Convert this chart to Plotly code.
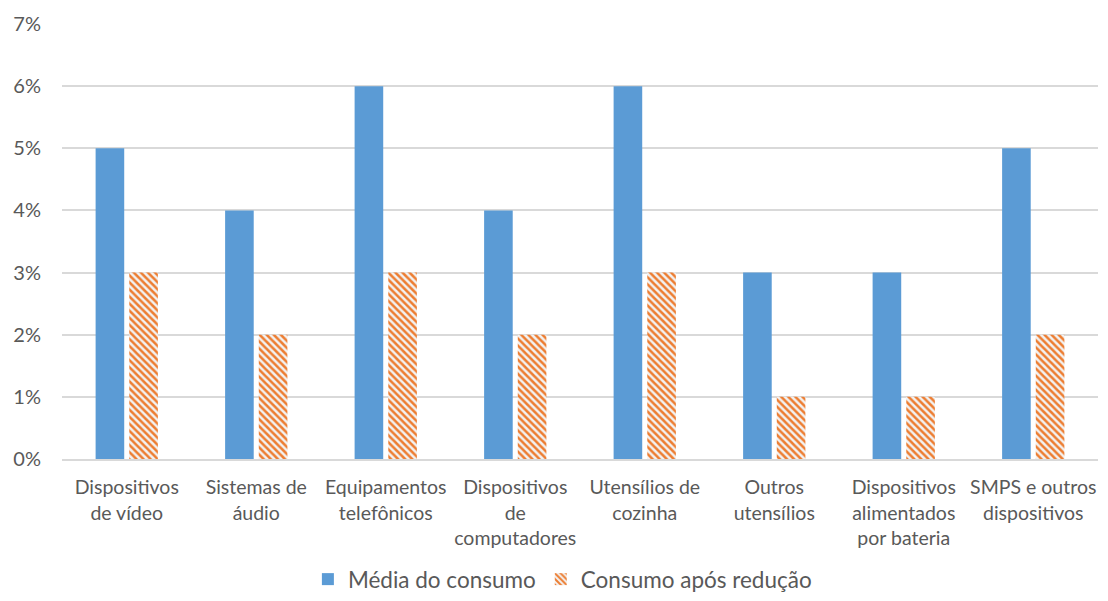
import plotly.graph_objects as go

categories = [
    "Dispositivos<br>de vídeo",
    "Sistemas de<br>áudio",
    "Equipamentos<br>telefônicos",
    "Dispositivos<br>de<br>computadores",
    "Utensílios de<br>cozinha",
    "Outros<br>utensílios",
    "Dispositivos<br>alimentados<br>por bateria",
    "SMPS e outros<br>dispositivos",
]
media_consumo = [0.05, 0.04, 0.06, 0.04, 0.06, 0.03, 0.03, 0.05]
consumo_reducao = [0.03, 0.02, 0.03, 0.02, 0.03, 0.01, 0.01, 0.02]

font_family = "Lato, Open Sans, sans-serif"

fig = go.Figure()
fig.add_trace(go.Bar(
    x=categories, y=media_consumo, name="Média do consumo",
    marker=dict(color="#5B9BD5", line=dict(width=0)),
))
fig.add_trace(go.Bar(
    x=categories, y=consumo_reducao, name="Consumo após redução",
    marker=dict(
        color="#F2F2F2",
        line=dict(width=0),
        pattern=dict(shape="\\", fgcolor="#ED7D31", bgcolor="#F2F2F2",
                     size=5, solidity=0.5, fillmode="replace"),
    ),
))

fig.update_layout(
    width=1108, height=601,
    margin=dict(l=62, r=10, t=24, b=142, autoexpand=False),
    paper_bgcolor="white", plot_bgcolor="white",
    barmode="group", bargap=0.48, bargroupgap=0.15,
    font=dict(family=font_family, color="#595959", size=19.5),
    legend=dict(orientation="h", x=0.483, xanchor="center",
                yref="container", y=0.0, yanchor="bottom",
                font=dict(size=22.5, color="#595959"), itemwidth=30,
                traceorder="normal"),
    xaxis=dict(showgrid=False, showline=True, linecolor="#D9D9D9", linewidth=1.5,
               tickfont=dict(size=19.5, color="#595959"), ticks="",
               ticklabelstandoff=10, automargin=False),
    yaxis=dict(range=[0, 0.07], dtick=0.01, tickformat=".0%",
               gridcolor="#D9D9D9", gridwidth=1.5, zeroline=False,
               tickfont=dict(size=20, color="#595959"), ticks="",
               ticklabelstandoff=20, automargin=False),
)

fig.write_html("out.html")
